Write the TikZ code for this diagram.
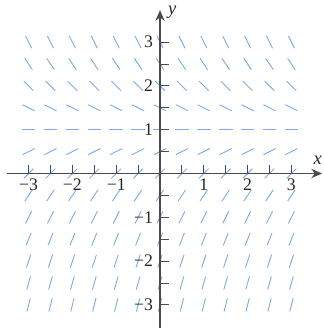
\documentclass[tikz,border=0pt]{standalone}
\usepackage{fontspec}
\setmainfont{Liberation Serif}
\usetikzlibrary{arrows.meta}
\definecolor{slopeblue}{RGB}{125,172,230}
\definecolor{axisgray}{RGB}{75,75,75}
\begin{document}
\begin{tikzpicture}[x=1cm,y=1cm,
  slopeseg/.style={draw=slopeblue, line width=0.6pt},
  axisline/.style={draw=axisgray, line width=0.8pt, -{Stealth[length=7pt,width=6pt]}},
  tickmark/.style={draw=axisgray, line width=0.6pt},
  ticklabel/.style={font=\fontsize{11.5}{13}\selectfont, text=black!85, inner sep=1pt},
  axislabel/.style={font=\fontsize{12}{14}\selectfont\itshape, text=black!85, inner sep=1pt}]
\useasboundingbox (-3.653,-3.527) rectangle (3.721,3.961);
% slope field dy/dx = 1 - y
\foreach \x in {-3,-2.5,...,3} {
  \foreach \y in {-3,-2.5,...,3} {
    \pgfmathsetmacro{\m}{1-\y}
    \pgfmathsetmacro{\dx}{0.155/sqrt(1+\m*\m)}
    \pgfmathsetmacro{\dy}{\m*\dx}
    \draw[slopeseg] ({\x-\dx},{\y-\dy}) -- ({\x+\dx},{\y+\dy});
  }
}
% axes
\coordinate (xstart) at (-3.49,0);
\coordinate (xend) at (3.70,0);
\coordinate (ystart) at (0,-3.53);
\coordinate (yend) at (0,3.73);
\draw[axisline] (xstart) -- (xend);
\draw[axisline] (ystart) -- (yend);
% ticks
\foreach \t in {-3,-2.5,-2,-1.5,-1,-0.5,0.5,1,1.5,2,2.5,3} {
  \draw[tickmark] (\t,0) -- (\t,0.19);
  \draw[tickmark] (0,\t) -- (0.2,\t);
}
% labels
\foreach \v/\s in {-3/−3,-2/−2,-1/−1,1/1,2/2,3/3} {
  \node[ticklabel, anchor=north] (xl\v) at (\v,-0.08) {\s};
  \node[ticklabel, anchor=east] (yl\v) at (-0.12,\v) {\s};
}
\node[axislabel] (xlab) at (3.60,0.31) {x};
\node[axislabel] (ylab) at (0.28,3.69) {y};
\end{tikzpicture}
\end{document}
